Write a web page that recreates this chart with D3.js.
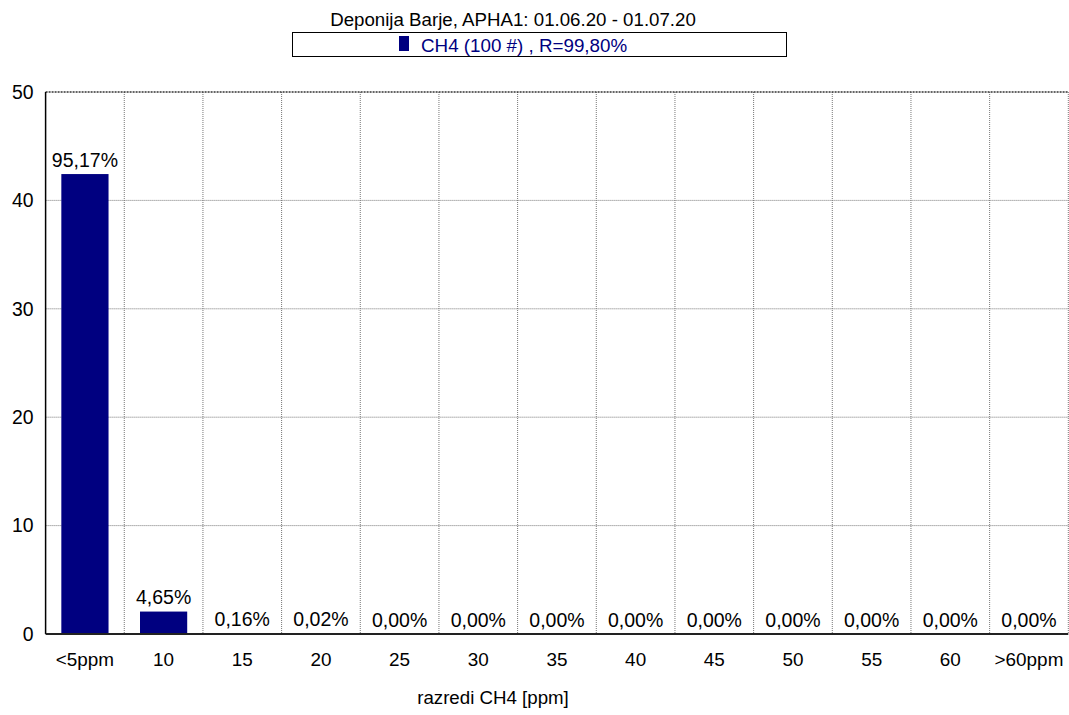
<!DOCTYPE html>
<html><head><meta charset="utf-8">
<script src="https://cdn.jsdelivr.net/npm/d3@7"></script>
<style>body{margin:0;background:#fff;} svg{display:block;font-family:"Liberation Sans",Arial,sans-serif;}</style>
</head><body>
<svg id="c" width="1069" height="715"></svg>
<script>
const categories = ["<5ppm","10","15","20","25","30","35","40","45","50","55","60",">60ppm"];
const values = [42.43, 2.07, 0.071, 0.009, 0, 0, 0, 0, 0, 0, 0, 0, 0];
const percentLabels = ["95,17%","4,65%","0,16%","0,02%","0,00%","0,00%","0,00%","0,00%","0,00%","0,00%","0,00%","0,00%","0,00%"];
const yTicks = [0,10,20,30,40,50];
const title = "Deponija Barje, APHA1: 01.06.20 - 01.07.20";
const legendText = "CH4 (100 #) , R=99,80%";
const xTitle = "razredi CH4 [ppm]";

const FONT = '"Liberation Sans",Arial,sans-serif';
const svg = d3.select("#c");
const L = 45.6, R = 1068.3, T = 92, B = 634;
const x = d3.scaleBand().domain(categories).range([L, R]).paddingInner(0).paddingOuter(0);
const y = d3.scaleLinear().domain([0, 50]).range([B, T]);
const navy = "#000080";
const gridColor = "#777";

// grid
const g = svg.append("g");
categories.forEach((c, i) => {
  if (i === 0) return;
  g.append("line").attr("x1", x(c)).attr("x2", x(c)).attr("y1", T).attr("y2", B)
    .attr("stroke", gridColor).attr("stroke-width", 1).attr("stroke-dasharray", "1,1");
});
g.append("line").attr("x1", R).attr("x2", R).attr("y1", T).attr("y2", B)
  .attr("stroke", gridColor).attr("stroke-width", 1).attr("stroke-dasharray", "1,1");
yTicks.filter(t => t > 0 && t < 50).forEach(t => {
  g.append("line").attr("x1", L).attr("x2", R).attr("y1", y(t)).attr("y2", y(t))
    .attr("stroke", gridColor).attr("stroke-width", 1).attr("stroke-dasharray", "1,1");
});
// top border
g.append("line").attr("x1", L).attr("x2", R).attr("y1", y(50)).attr("y2", y(50))
  .attr("stroke", "#333").attr("stroke-width", 1.5).attr("stroke-dasharray", "2,1");

// bars
const bw = x.bandwidth() * 0.6;
svg.append("g").selectAll("rect").data(values).join("rect")
  .attr("x", (d, i) => x(categories[i]) + (x.bandwidth() - bw) / 2)
  .attr("width", bw)
  .attr("y", d => y(d))
  .attr("height", d => B - y(d))
  .attr("fill", navy);

// bar labels
svg.append("g").selectAll("text").data(values).join("text")
  .attr("x", (d, i) => x(categories[i]) + x.bandwidth() / 2)
  .attr("y", d => y(d) - 7.5)
  .attr("text-anchor", "middle")
  .attr("font-size", 19.5).attr("fill", "#000")
  .text((d, i) => percentLabels[i]);

// axes
svg.append("line").attr("x1", L).attr("x2", L).attr("y1", T).attr("y2", B).attr("stroke", "#000").attr("stroke-width", 1.5);
svg.append("line").attr("x1", L).attr("x2", R).attr("y1", B).attr("y2", B).attr("stroke", "#222").attr("stroke-width", 2);

const yAxis = d3.axisLeft(y).tickValues(yTicks).tickSize(0).tickPadding(12).tickFormat(d3.format("d"));
const ya = svg.append("g").attr("transform", `translate(${L},0)`).call(yAxis);
ya.select(".domain").remove();
ya.selectAll("text").attr("font-size", 19.4).attr("fill", "#000").attr("font-family", FONT);

const xAxis = d3.axisBottom(x).tickSize(0).tickPadding(19);
const xa = svg.append("g").attr("transform", `translate(0,${B})`).call(xAxis);
xa.select(".domain").remove();
xa.selectAll("text").attr("font-size", 18.9).attr("fill", "#000").attr("font-family", FONT);

// title
svg.append("text").attr("x", 513).attr("y", 25.5).attr("text-anchor", "middle")
  .attr("font-size", 18.7).attr("fill", "#000").text(title);
// legend box
svg.append("rect").attr("x", 292.5).attr("y", 32.5).attr("width", 494).attr("height", 24)
  .attr("fill", "#fff").attr("stroke", "#000").attr("stroke-width", 1);
svg.append("rect").attr("x", 399).attr("y", 36).attr("width", 10).attr("height", 15).attr("fill", navy);
svg.append("text").attr("x", 421).attr("y", 51.5).attr("font-size", 18.8).attr("fill", navy).text(legendText);

svg.append("text").attr("x", 493).attr("y", 704).attr("text-anchor", "middle")
  .attr("font-size", 18.7).attr("fill", "#000").text(xTitle);
</script>
</body></html>
